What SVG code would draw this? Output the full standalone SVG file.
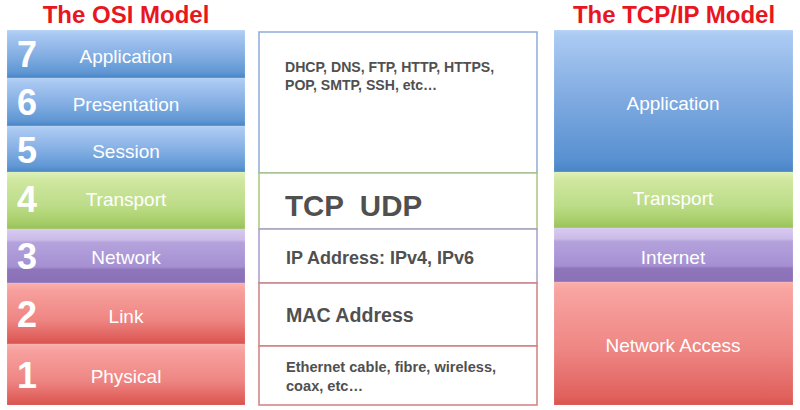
<svg xmlns="http://www.w3.org/2000/svg" width="800" height="410" viewBox="0 0 800 410">
<defs>
<linearGradient id="gBlue" x1="0" y1="0" x2="0" y2="1">
<stop offset="0" stop-color="#b4d1f6"/><stop offset="0.12" stop-color="#a6c6f0"/><stop offset="0.5" stop-color="#86b0e4"/><stop offset="0.88" stop-color="#5f97d4"/><stop offset="1" stop-color="#4a84c4"/>
</linearGradient>
<linearGradient id="gGreen" x1="0" y1="0" x2="0" y2="1">
<stop offset="0" stop-color="#def0b8"/><stop offset="0.15" stop-color="#cfe79f"/><stop offset="0.6" stop-color="#bcdc88"/><stop offset="0.85" stop-color="#a9cf6c"/><stop offset="1" stop-color="#98c25a"/>
</linearGradient>
<linearGradient id="gPurple" x1="0" y1="0" x2="0" y2="1">
<stop offset="0" stop-color="#d8cbf0"/><stop offset="0.2" stop-color="#cbbbe8"/><stop offset="0.25" stop-color="#b4a2dc"/><stop offset="0.7" stop-color="#a590d2"/><stop offset="0.75" stop-color="#8f76bb"/><stop offset="1" stop-color="#8a70b6"/>
</linearGradient>
<linearGradient id="gRed" x1="0" y1="0" x2="0" y2="1">
<stop offset="0" stop-color="#fbb0ad"/><stop offset="0.12" stop-color="#f7a09d"/><stop offset="0.6" stop-color="#ee8683"/><stop offset="0.9" stop-color="#e0605c"/><stop offset="1" stop-color="#d9534f"/>
</linearGradient>
<linearGradient id="gBlueTall" x1="0" y1="0" x2="0" y2="1">
<stop offset="0" stop-color="#b4d1f6"/><stop offset="0.05" stop-color="#a9c9f2"/><stop offset="0.5" stop-color="#7ea9e0"/><stop offset="0.92" stop-color="#5790d0"/><stop offset="1" stop-color="#4a84c4"/>
</linearGradient>
<linearGradient id="gRedTall" x1="0" y1="0" x2="0" y2="1">
<stop offset="0" stop-color="#fbb0ad"/><stop offset="0.06" stop-color="#f8a4a1"/><stop offset="0.55" stop-color="#ee8683"/><stop offset="0.94" stop-color="#e0605c"/><stop offset="1" stop-color="#d9534f"/>
</linearGradient>
</defs>
<style>
.title{font-family:"Liberation Sans",Arial,sans-serif;font-weight:bold;font-size:24px;fill:#e8161e;text-anchor:middle}
.num{font-family:"Liberation Sans",Arial,sans-serif;font-weight:bold;font-size:36px;fill:#ffffff}
.lbl{font-family:"Liberation Sans",Arial,sans-serif;font-size:19px;fill:#ffffff;text-anchor:middle}
.mid{font-family:"Liberation Sans",Arial,sans-serif;font-weight:bold;fill:#505050}
.box{fill:#ffffff;stroke-width:1.5}
.layer{stroke:#ffffff;stroke-opacity:0.25;stroke-width:0.5}
</style>
<rect width="800" height="410" fill="#ffffff"/>
<text class="title" x="126" y="23">The OSI Model</text>
<text class="title" x="674" y="23">The TCP/IP Model</text>

<g id="osi">
<g id="osi7"><rect class="layer" x="7" y="30" width="238" height="48" fill="url(#gBlue)"/><text class="num" x="17" y="67">7</text><text class="lbl" x="126" y="63">Application</text></g>
<g id="osi6"><rect class="layer" x="7" y="78" width="238" height="48" fill="url(#gBlue)"/><text class="num" x="17" y="115">6</text><text class="lbl" x="126" y="111">Presentation</text></g>
<g id="osi5"><rect class="layer" x="7" y="126" width="238" height="46" fill="url(#gBlue)"/><text class="num" x="17" y="163">5</text><text class="lbl" x="126" y="158">Session</text></g>
<g id="osi4"><rect class="layer" x="7" y="172" width="238" height="57" fill="url(#gGreen)"/><text class="num" x="17" y="212">4</text><text class="lbl" x="126" y="206">Transport</text></g>
<g id="osi3"><rect class="layer" x="7" y="229" width="238" height="54" fill="url(#gPurple)"/><text class="num" x="17" y="269">3</text><text class="lbl" x="126" y="264">Network</text></g>
<g id="osi2"><rect class="layer" x="7" y="283" width="238" height="61" fill="url(#gRed)"/><text class="num" x="17" y="327">2</text><text class="lbl" x="126" y="323">Link</text></g>
<g id="osi1"><rect class="layer" x="7" y="344" width="238" height="61" fill="url(#gRed)"/><text class="num" x="17" y="388">1</text><text class="lbl" x="126" y="383">Physical</text></g>
</g>

<g id="protocols">
<g id="p-app"><rect class="box" x="259" y="32" width="278" height="141" stroke="#8eaad8"/><text class="mid" font-size="14.1" x="285" y="72">DHCP, DNS, FTP, HTTP, HTTPS,</text><text class="mid" font-size="14.1" x="285" y="90">POP, SMTP, SSH, etc…</text></g>
<g id="p-trans"><rect class="box" x="259" y="173" width="278" height="56" stroke="#a9c77c"/><text class="mid" font-size="29.5" x="285" y="216" xml:space="preserve">TCP  UDP</text></g>
<g id="p-net"><rect class="box" x="259" y="229" width="278" height="54" stroke="#a99ccf"/><text class="mid" font-size="18" x="286" y="264">IP Address: IPv4, IPv6</text></g>
<g id="p-link"><rect class="box" x="259" y="283" width="278" height="63" stroke="#d47f7f"/><text class="mid" font-size="19.6" x="286" y="322">MAC Address</text></g>
<g id="p-phys"><rect class="box" x="259" y="346" width="278" height="59" stroke="#d47f7f"/><text class="mid" font-size="14.6" x="286" y="372">Ethernet cable, fibre, wireless,</text><text class="mid" font-size="14.6" x="286" y="391">coax, etc…</text></g>
</g>

<g id="tcpip">
<g id="t-app"><rect class="layer" x="554" y="30" width="239" height="142" fill="url(#gBlueTall)"/><text class="lbl" x="673" y="110">Application</text></g>
<g id="t-trans"><rect class="layer" x="554" y="172" width="239" height="56" fill="url(#gGreen)"/><text class="lbl" x="673" y="205">Transport</text></g>
<g id="t-net"><rect class="layer" x="554" y="228" width="239" height="54" fill="url(#gPurple)"/><text class="lbl" x="673" y="264">Internet</text></g>
<g id="t-access"><rect class="layer" x="554" y="282" width="239" height="123" fill="url(#gRedTall)"/><text class="lbl" x="673" y="352">Network Access</text></g>
</g>
<g id="connectors"/>
</svg>
